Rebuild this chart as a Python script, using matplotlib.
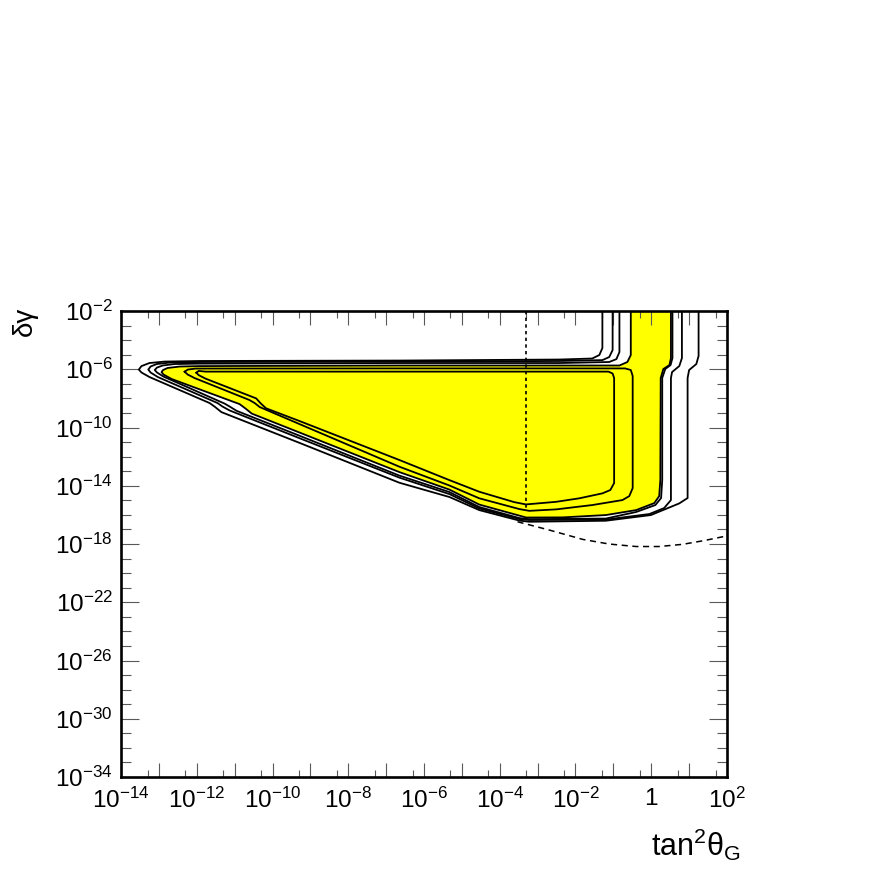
import numpy as np
import matplotlib
matplotlib.use('Agg')
import matplotlib.pyplot as plt
from matplotlib.ticker import FixedLocator, FuncFormatter, NullFormatter

# all values are log10(tan^2 theta_G) and log10(delta gamma)

# outermost contour (open at top)
c1X = [-1.29, -1.29, -1.37, -1.56, -2.43, -6.65, -11.93, -12.85, -13.25, -13.46,
       -13.53, -13.46, -13.25, -12.45, -11.66, -11.53, -11.35, -9.29, -6.65, -5.33,
       -4.54, -3.48, -3.22, -1.20, -0.01, 0.74, 0.96, 0.96, 1.00, 1.19, 1.25, 1.25]
c1Y = [-2.00, -4.54, -5.02, -5.26, -5.33, -5.40, -5.43, -5.47, -5.57, -5.78,
       -6.02, -6.22, -6.53, -7.43, -8.32, -8.56, -8.94, -11.05, -13.79, -14.77,
       -15.67, -16.39, -16.47, -16.40, -16.01, -15.21, -14.84, -6.60, -6.05, -5.64, -5.09, -2.00]

c2X = [-1.02, -1.02, -1.11, -1.29, -2.43, -6.65, -11.93, -12.72, -13.06, -13.22,
       -13.28, -13.22, -13.03, -11.45, -11.32, -11.13, -9.29, -6.65, -5.33, -4.54,
       -3.48, -3.22, -1.20, -0.05, 0.34, 0.52, 0.52, 0.55, 0.74, 0.81, 0.81]
c2Y = [-2.00, -4.68, -5.16, -5.37, -5.43, -5.47, -5.50, -5.54, -5.64, -5.81,
       -6.02, -6.22, -6.53, -8.32, -8.56, -8.83, -10.73, -13.44, -14.57, -15.56,
       -16.29, -16.35, -16.32, -15.94, -15.53, -14.98, -6.60, -6.19, -5.78, -5.23, -2.00]

c3X = [-0.84, -0.84, -0.92, -1.11, -2.43, -6.65, -11.93, -12.59, -12.90, -13.05,
       -13.11, -13.05, -12.88, -11.27, -11.13, -10.95, -9.29, -6.65, -5.33, -4.54,
       -3.48, -3.22, -1.20, -0.40, 0.11, 0.26, 0.29, 0.29, 0.37, 0.51, 0.56, 0.56]
c3Y = [-2.00, -4.82, -5.30, -5.50, -5.57, -5.57, -5.61, -5.64, -5.74, -5.88,
       -6.05, -6.22, -6.50, -8.35, -8.56, -8.85, -10.56, -13.30, -14.43, -15.46,
       -16.22, -16.29, -16.25, -15.80, -15.32, -14.84, -13.61, -6.60, -5.98, -5.71, -5.23, -2.00]

# yellow (filled) contour
yelX = [-0.54, -0.54, -0.63, -0.84, -2.43, -6.65, -11.93, -12.45, -12.77, -12.89,
        -12.93, -12.88, -12.66, -10.87, -10.71, -10.55, -9.29, -6.65, -5.33, -4.54,
        -3.30, -2.34, -1.20, -0.40, 0.08, 0.21, 0.24, 0.25, 0.32, 0.48, 0.52, 0.52]
yelY = [-2.00, -5.02, -5.50, -5.74, -5.74, -5.74, -5.78, -5.81, -5.91, -6.05,
        -6.19, -6.36, -6.67, -8.39, -8.70, -9.04, -10.34, -13.06, -14.26, -15.29,
        -16.18, -16.17, -16.01, -15.67, -15.19, -14.71, -13.61, -6.60, -5.98, -5.71, -5.23, -2.00]

# inner closed contours
in1X = [-12.32, -12.24, -12.03, -6.65, -0.69, -0.54, -0.49, -0.49, -0.58, -0.76,
        -1.55, -2.51, -3.22, -3.48, -4.54, -5.33, -6.65, -9.29, -10.34, -10.47,
        -10.61, -12.06, -12.24, -12.32]
in1Y = [-6.17, -6.02, -5.95, -5.94, -5.94, -6.05, -6.46, -14.16, -14.71, -14.98,
        -15.32, -15.62, -15.72, -15.60, -14.86, -13.98, -12.69, -9.76, -8.59, -8.32,
        -8.11, -6.60, -6.36, -6.17]

in2X = [-12.01, -11.95, -11.77, -6.65, -1.13, -1.02, -0.98, -0.98, -1.08, -1.29,
        -1.90, -2.51, -3.31, -3.62, -4.54, -5.33, -6.65, -9.29, -10.17, -10.32,
        -10.43, -11.77, -11.95, -12.01]
in2Y = [-6.24, -6.11, -6.16, -6.16, -6.16, -6.29, -6.60, -13.81, -14.29, -14.52,
        -14.86, -15.10, -15.28, -15.12, -14.41, -13.61, -12.23, -9.55, -8.68, -8.32,
        -8.00, -6.64, -6.40, -6.24]

# dotted vertical limit and dashed lower curve
limitX = -3.30
limitY = [-2.00, -15.67]
dashX = [-3.53, -2.69, -1.81, -1.11, -0.40, 0.21, 0.83, 1.40, 1.98]
dashY = [-16.47, -17.04, -17.68, -18.00, -18.17, -18.17, -18.02, -17.76, -17.45]

plt.rcParams['font.family'] = ['Liberation Sans', 'DejaVu Sans']
plt.rcParams['mathtext.fontset'] = 'custom'
plt.rcParams['mathtext.rm'] = 'Liberation Sans'
plt.rcParams['mathtext.it'] = 'Liberation Sans:italic'
plt.rcParams['mathtext.bf'] = 'Liberation Sans:bold'


def pw(v):
    return 10.0 ** np.array(v)


def expLabel(val, pos, step=1):
    e = int(round(np.log10(val)))
    if e % step != 0:
        return ''
    if e == 0:
        return '1'
    return r'$10^{%d}$' % e


fig = plt.figure(figsize=(8.72, 8.72), dpi=100)
ax = fig.add_axes([0.1388, 0.1089, 0.6949, 0.5344])
ax.set_xscale('log')
ax.set_yscale('log')

ax.fill(pw(yelX), pw(yelY), color='#ffff00', lw=0, zorder=1)

lineKw = dict(color='black', lw=1.3, zorder=3, solid_joinstyle='round')
for cx, cy in [(c1X, c1Y), (c2X, c2Y), (c3X, c3Y), (yelX, yelY), (in1X, in1Y), (in2X, in2Y)]:
    ax.plot(pw(cx), pw(cy), **lineKw)

ax.plot(pw([limitX, limitX]), pw(limitY), color='black', lw=1.2,
        linestyle=(0, (2, 2)), zorder=4)
ax.plot(pw(dashX), pw(dashY), color='black', lw=1.1,
        linestyle=(0, (4, 3)), zorder=4)

ax.set_xlim(1e-14, 1e2)
ax.set_ylim(1e-34, 1e-2)

ax.xaxis.set_major_locator(FixedLocator(10.0 ** np.arange(-14, 3)))
ax.xaxis.set_minor_locator(FixedLocator(5 * 10.0 ** np.arange(-15, 2)))
ax.xaxis.set_major_formatter(FuncFormatter(lambda v, p: expLabel(v, p, 2)))
ax.xaxis.set_minor_formatter(NullFormatter())

ax.yaxis.set_major_locator(FixedLocator(10.0 ** np.arange(-34, -1, 4)))
ax.yaxis.set_minor_locator(FixedLocator(10.0 ** np.arange(-34, -1)))
ax.yaxis.set_major_formatter(FuncFormatter(lambda v, p: expLabel(v, p)))
ax.yaxis.set_minor_formatter(NullFormatter())

ax.tick_params(axis='both', which='both', direction='in', top=True, right=True,
               color='0.35', width=0.8, labelsize=17.5)
ax.tick_params(axis='x', which='major', length=10, pad=8)
ax.tick_params(axis='x', which='minor', length=5)
ax.tick_params(axis='y', which='major', length=13, pad=6)
ax.tick_params(axis='y', which='minor', length=7.5)

for sp in ax.spines.values():
    sp.set_linewidth(1.9)
    sp.set_zorder(5)

fig.text(0.849, 0.019, r'tan$^{2}$θ$_{\mathrm{G}}$', fontsize=22, ha='right', va='baseline')
fig.text(0.029, 0.648, 'δγ', fontsize=20, rotation=90, ha='center', va='top')

fig.savefig('out.png', dpi=100)
